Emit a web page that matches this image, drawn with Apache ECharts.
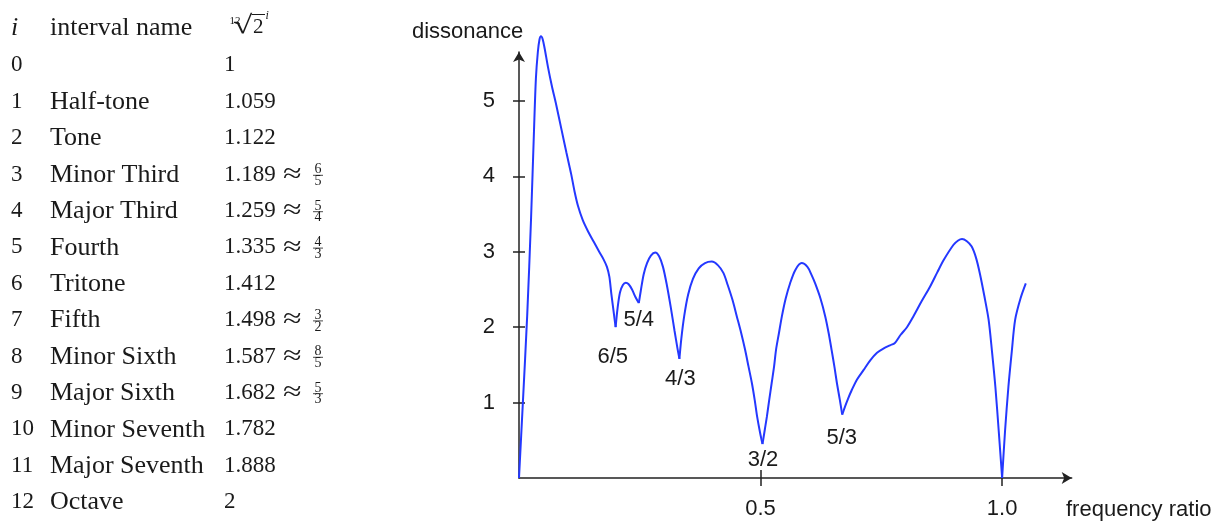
<!DOCTYPE html>
<html>
<head>
<meta charset="utf-8">
<script src="https://cdn.jsdelivr.net/npm/echarts@6/dist/echarts.min.js"></script>
<style>
html,body{margin:0;padding:0;background:#fff;}
#chart{width:1230px;height:524px;}
</style>
</head>
<body>
<div id="chart"></div>
<script>
// ---- table data ----
const rowIndex = ['0','1','2','3','4','5','6','7','8','9','10','11','12'];
const intervalNames = ['', 'Half-tone', 'Tone', 'Minor Third', 'Major Third', 'Fourth', 'Tritone', 'Fifth', 'Minor Sixth', 'Major Sixth', 'Minor Seventh', 'Major Seventh', 'Octave'];
const rootValues = ['1', '1.059', '1.122', '1.189', '1.259', '1.335', '1.412', '1.498', '1.587', '1.682', '1.782', '1.888', '2'];
const fracNum = ['', '', '', '6', '5', '4', '', '3', '8', '5', '', '', ''];
const fracDen = ['', '', '', '5', '4', '3', '', '2', '5', '3', '', '', ''];

// ---- curve data (x = frequency ratio - 1, y = dissonance) ----
const curveX = [0, 0.008, 0.017, 0.025, 0.031, 0.035, 0.039, 0.0425, 0.0455, 0.049, 0.053, 0.06, 0.068, 0.077, 0.088, 0.098, 0.108, 0.115, 0.122, 0.132, 0.143, 0.155, 0.166, 0.175, 0.182, 0.187, 0.191, 0.195, 0.2,
  0.204, 0.209, 0.215, 0.221, 0.227, 0.234, 0.241, 0.248,
  0.252, 0.258, 0.265, 0.273, 0.282, 0.29, 0.298, 0.306, 0.314, 0.322, 0.328, 0.332,
  0.336, 0.342, 0.35, 0.36, 0.372, 0.385, 0.399, 0.412, 0.423, 0.432, 0.442, 0.451, 0.46, 0.468, 0.475, 0.482, 0.488, 0.493, 0.499, 0.504,
  0.509, 0.513, 0.518, 0.523, 0.528, 0.532, 0.538, 0.544, 0.552, 0.561, 0.572, 0.585, 0.597, 0.605, 0.613, 0.624, 0.634, 0.641, 0.647, 0.653, 0.658, 0.664, 0.669,
  0.675, 0.681, 0.689, 0.7, 0.713, 0.727, 0.741, 0.755, 0.768, 0.778, 0.79, 0.803, 0.816, 0.833, 0.851, 0.866, 0.879, 0.899, 0.909, 0.917, 0.927, 0.937, 0.946, 0.954, 0.963, 0.972, 0.979, 0.986, 0.993, 1.0,
  1.006, 1.013, 1.02, 1.027, 1.038, 1.049];
const curveY = [0, 1.0, 2.16, 3.45, 4.6, 5.3, 5.65, 5.82, 5.86, 5.82, 5.7, 5.45, 5.2, 4.95, 4.62, 4.32, 4.03, 3.8, 3.61, 3.42, 3.27, 3.13, 3.0, 2.9, 2.8, 2.67, 2.45, 2.25, 2.0,
  2.25, 2.46, 2.56, 2.59, 2.57, 2.5, 2.4, 2.32,
  2.48, 2.7, 2.85, 2.95, 2.99, 2.94, 2.8, 2.56, 2.27, 1.95, 1.72, 1.58,
  1.85, 2.15, 2.43, 2.64, 2.78, 2.85, 2.87, 2.82, 2.72, 2.56, 2.36, 2.14, 1.92, 1.7, 1.48, 1.26, 1.03, 0.81, 0.6, 0.45,
  0.65, 0.81, 1.04, 1.26, 1.48, 1.7, 1.92, 2.14, 2.38, 2.58, 2.76, 2.85, 2.8, 2.7, 2.58, 2.38, 2.14, 1.92, 1.7, 1.47, 1.26, 1.04, 0.84,
  0.95, 1.05, 1.17, 1.31, 1.43, 1.56, 1.66, 1.72, 1.76, 1.79, 1.9, 2.0, 2.14, 2.34, 2.54, 2.73, 2.89, 3.09, 3.15, 3.17, 3.14, 3.07, 2.92, 2.71, 2.42, 2.1, 1.68, 1.21, 0.62, 0.0,
  0.62, 1.21, 1.68, 2.1, 2.38, 2.58];

// ---- annotations of the dips ----
const dipLabels = ['6/5', '5/4', '4/3', '3/2', '5/3'];
const dipLabelX = [0.194, 0.248, 0.334, 0.505, 0.668];
const dipLabelY = [1.6, 2.09, 1.31, 0.24, 0.53];

// ---- axes ticks ----
const xTicks = [0.5, 1.0];
const yTicks = [1, 2, 3, 4, 5];
const xMax = 1.144, yMax = 5.65;

const SERIF = '"Liberation Serif", "Times New Roman", serif';
const SANS = '"Liberation Sans", Arial, sans-serif';
const INK = '#1a1a1a';
const CURVE = '#2438ff';

// ---- table as graphic text ----
const headerBase = 33.5, rowBase0 = 71.6, rowStep = 36.4;
const colI = 11, colName = 50, colVal = 224, colApprox = 283, colFrac = 318;
function txt(x, base, text, size, opts) {
  opts = opts || {};
  const shift = size >= 25 ? 3 : 1.5;
  return {
    type: 'text', x: x, y: base - 0.3375 * size + shift, silent: true, scaleX: opts.scaleX || 1,
    style: { text: text, font: (opts.italic ? 'italic ' : '') + size + 'px ' + SERIF, fill: INK, align: opts.align || 'left', verticalAlign: 'middle' }
  };
}
const graphics = [];
graphics.push(txt(colI, headerBase, 'i', 26, { italic: true }));
graphics.push(txt(colName, headerBase, 'interval name', 26));
// 12th root of 2 to the power i
graphics.push({ type: 'text', x: 229.5, y: 21.5, silent: true, style: { text: '12', font: '11px ' + SERIF, fill: INK, verticalAlign: 'middle' } });
graphics.push({ type: 'text', x: 233, y: 26, scaleX: 1.35, silent: true, style: { text: '\u221A', font: '26px ' + SERIF, fill: INK, verticalAlign: 'middle' } });
graphics.push({ type: 'line', silent: true, shape: { x1: 251.5, y1: 14.5, x2: 265, y2: 14.5 }, style: { stroke: INK, lineWidth: 1 } });
graphics.push(txt(253, 33, '2', 21));
graphics.push({ type: 'text', x: 265.5, y: 15.5, silent: true, style: { text: 'i', font: 'italic 12px ' + SERIF, fill: INK, verticalAlign: 'middle' } });

rowIndex.forEach(function (r, k) {
  const b = rowBase0 + rowStep * k;
  graphics.push(txt(colI, b, r, 23));
  if (intervalNames[k]) graphics.push(txt(colName, b, intervalNames[k], 26));
  graphics.push(txt(colVal, b, rootValues[k], 23));
  if (fracNum[k]) {
    graphics.push(txt(colApprox, b, '\u2248', 27, { scaleX: 1.25 }));
    graphics.push({ type: 'text', x: colFrac, y: b - 11, silent: true, style: { text: fracNum[k], font: '14px ' + SERIF, fill: INK, align: 'center', verticalAlign: 'middle' } });
    graphics.push({ type: 'line', silent: true, shape: { x1: colFrac - 5, y1: b - 5.5, x2: colFrac + 5, y2: b - 5.5 }, style: { stroke: INK, lineWidth: 0.8 } });
    graphics.push({ type: 'text', x: colFrac, y: b + 0.5, silent: true, style: { text: fracDen[k], font: '14px ' + SERIF, fill: INK, align: 'center', verticalAlign: 'middle' } });
  }
});
// axis names
graphics.push({ type: 'text', x: 412, y: 31.5, silent: true, style: { text: 'dissonance', font: '22px ' + SANS, fill: INK, verticalAlign: 'middle' } });
graphics.push({ type: 'text', x: 1066, y: 509.5, silent: true, style: { text: 'frequency ratio', font: '22px ' + SANS, fill: INK, verticalAlign: 'middle' } });

// ---- split the curve at its cusps (local minima) so each arch is smoothed separately ----
const cuts = [0];
for (let i = 1; i < curveY.length - 1; i++) {
  if (curveY[i] < curveY[i - 1] && curveY[i] < curveY[i + 1]) cuts.push(i);
}
cuts.push(curveY.length - 1);
const curveSeries = [];
for (let s = 0; s < cuts.length - 1; s++) {
  const pts = [];
  for (let i = cuts[s]; i <= cuts[s + 1]; i++) pts.push([curveX[i], curveY[i]]);
  curveSeries.push({
    type: 'line', xAxisIndex: 0, yAxisIndex: 0, data: pts,
    showSymbol: false, smooth: 0.3, silent: true, clip: false,
    lineStyle: { color: CURVE, width: 2 }
  });
}

const axisColor = '#222';
const chart = echarts.init(document.getElementById('chart'), null, { renderer: 'canvas' });
chart.setOption({
  animation: false,
  backgroundColor: '#fff',
  grid: { left: 519, right: 158.3, top: 52, bottom: 46, containLabel: false, outerBoundsMode: 'none' },
  xAxis: [
    {
      type: 'value', min: 0, max: xMax,
      axisLine: { show: true, onZero: false, symbol: ['none', 'arrow'], symbolSize: [9, 10], lineStyle: { color: axisColor, width: 1.5 } },
      axisTick: { show: true, inside: false, length: 8, customValues: xTicks, lineStyle: { color: axisColor, width: 1.5 } },
      axisLabel: { show: true, customValues: xTicks, margin: 19.5, fontSize: 22, fontFamily: SANS, color: INK, formatter: function (v) { return v.toFixed(1); } },
      splitLine: { show: false }
    },
    {
      type: 'value', min: 0, max: xMax, position: 'bottom',
      axisLine: { show: false },
      axisTick: { show: true, inside: true, length: 8, customValues: xTicks, lineStyle: { color: axisColor, width: 1.5 } },
      axisLabel: { show: false },
      splitLine: { show: false }
    }
  ],
  yAxis: [
    {
      type: 'value', min: 0, max: yMax,
      axisLine: { show: true, onZero: false, symbol: ['none', 'arrow'], symbolSize: [9, 10], lineStyle: { color: axisColor, width: 1.5 } },
      axisTick: { show: true, inside: false, length: 6, customValues: yTicks, lineStyle: { color: axisColor, width: 1.5 } },
      axisLabel: { show: true, customValues: yTicks, margin: 24, fontSize: 22, fontFamily: SANS, color: INK },
      splitLine: { show: false }
    },
    {
      type: 'value', min: 0, max: yMax, position: 'left',
      axisLine: { show: false },
      axisTick: { show: true, inside: true, length: 6, customValues: yTicks, lineStyle: { color: axisColor, width: 1.5 } },
      axisLabel: { show: false },
      splitLine: { show: false }
    }
  ],
  series: curveSeries.concat([
    {
      type: 'scatter', xAxisIndex: 0, yAxisIndex: 0, symbolSize: 0, silent: true, clip: false,
      itemStyle: { opacity: 1 },
      data: dipLabels.map(function (t, i) { return [dipLabelX[i], dipLabelY[i], t]; }),
      label: { show: true, position: 'inside', opacity: 1, textBorderWidth: 0, formatter: function (p) { return p.value[2]; }, fontSize: 22, fontFamily: SANS, color: INK }
    }
  ]),
  graphic: graphics
});
</script>
</body>
</html>
